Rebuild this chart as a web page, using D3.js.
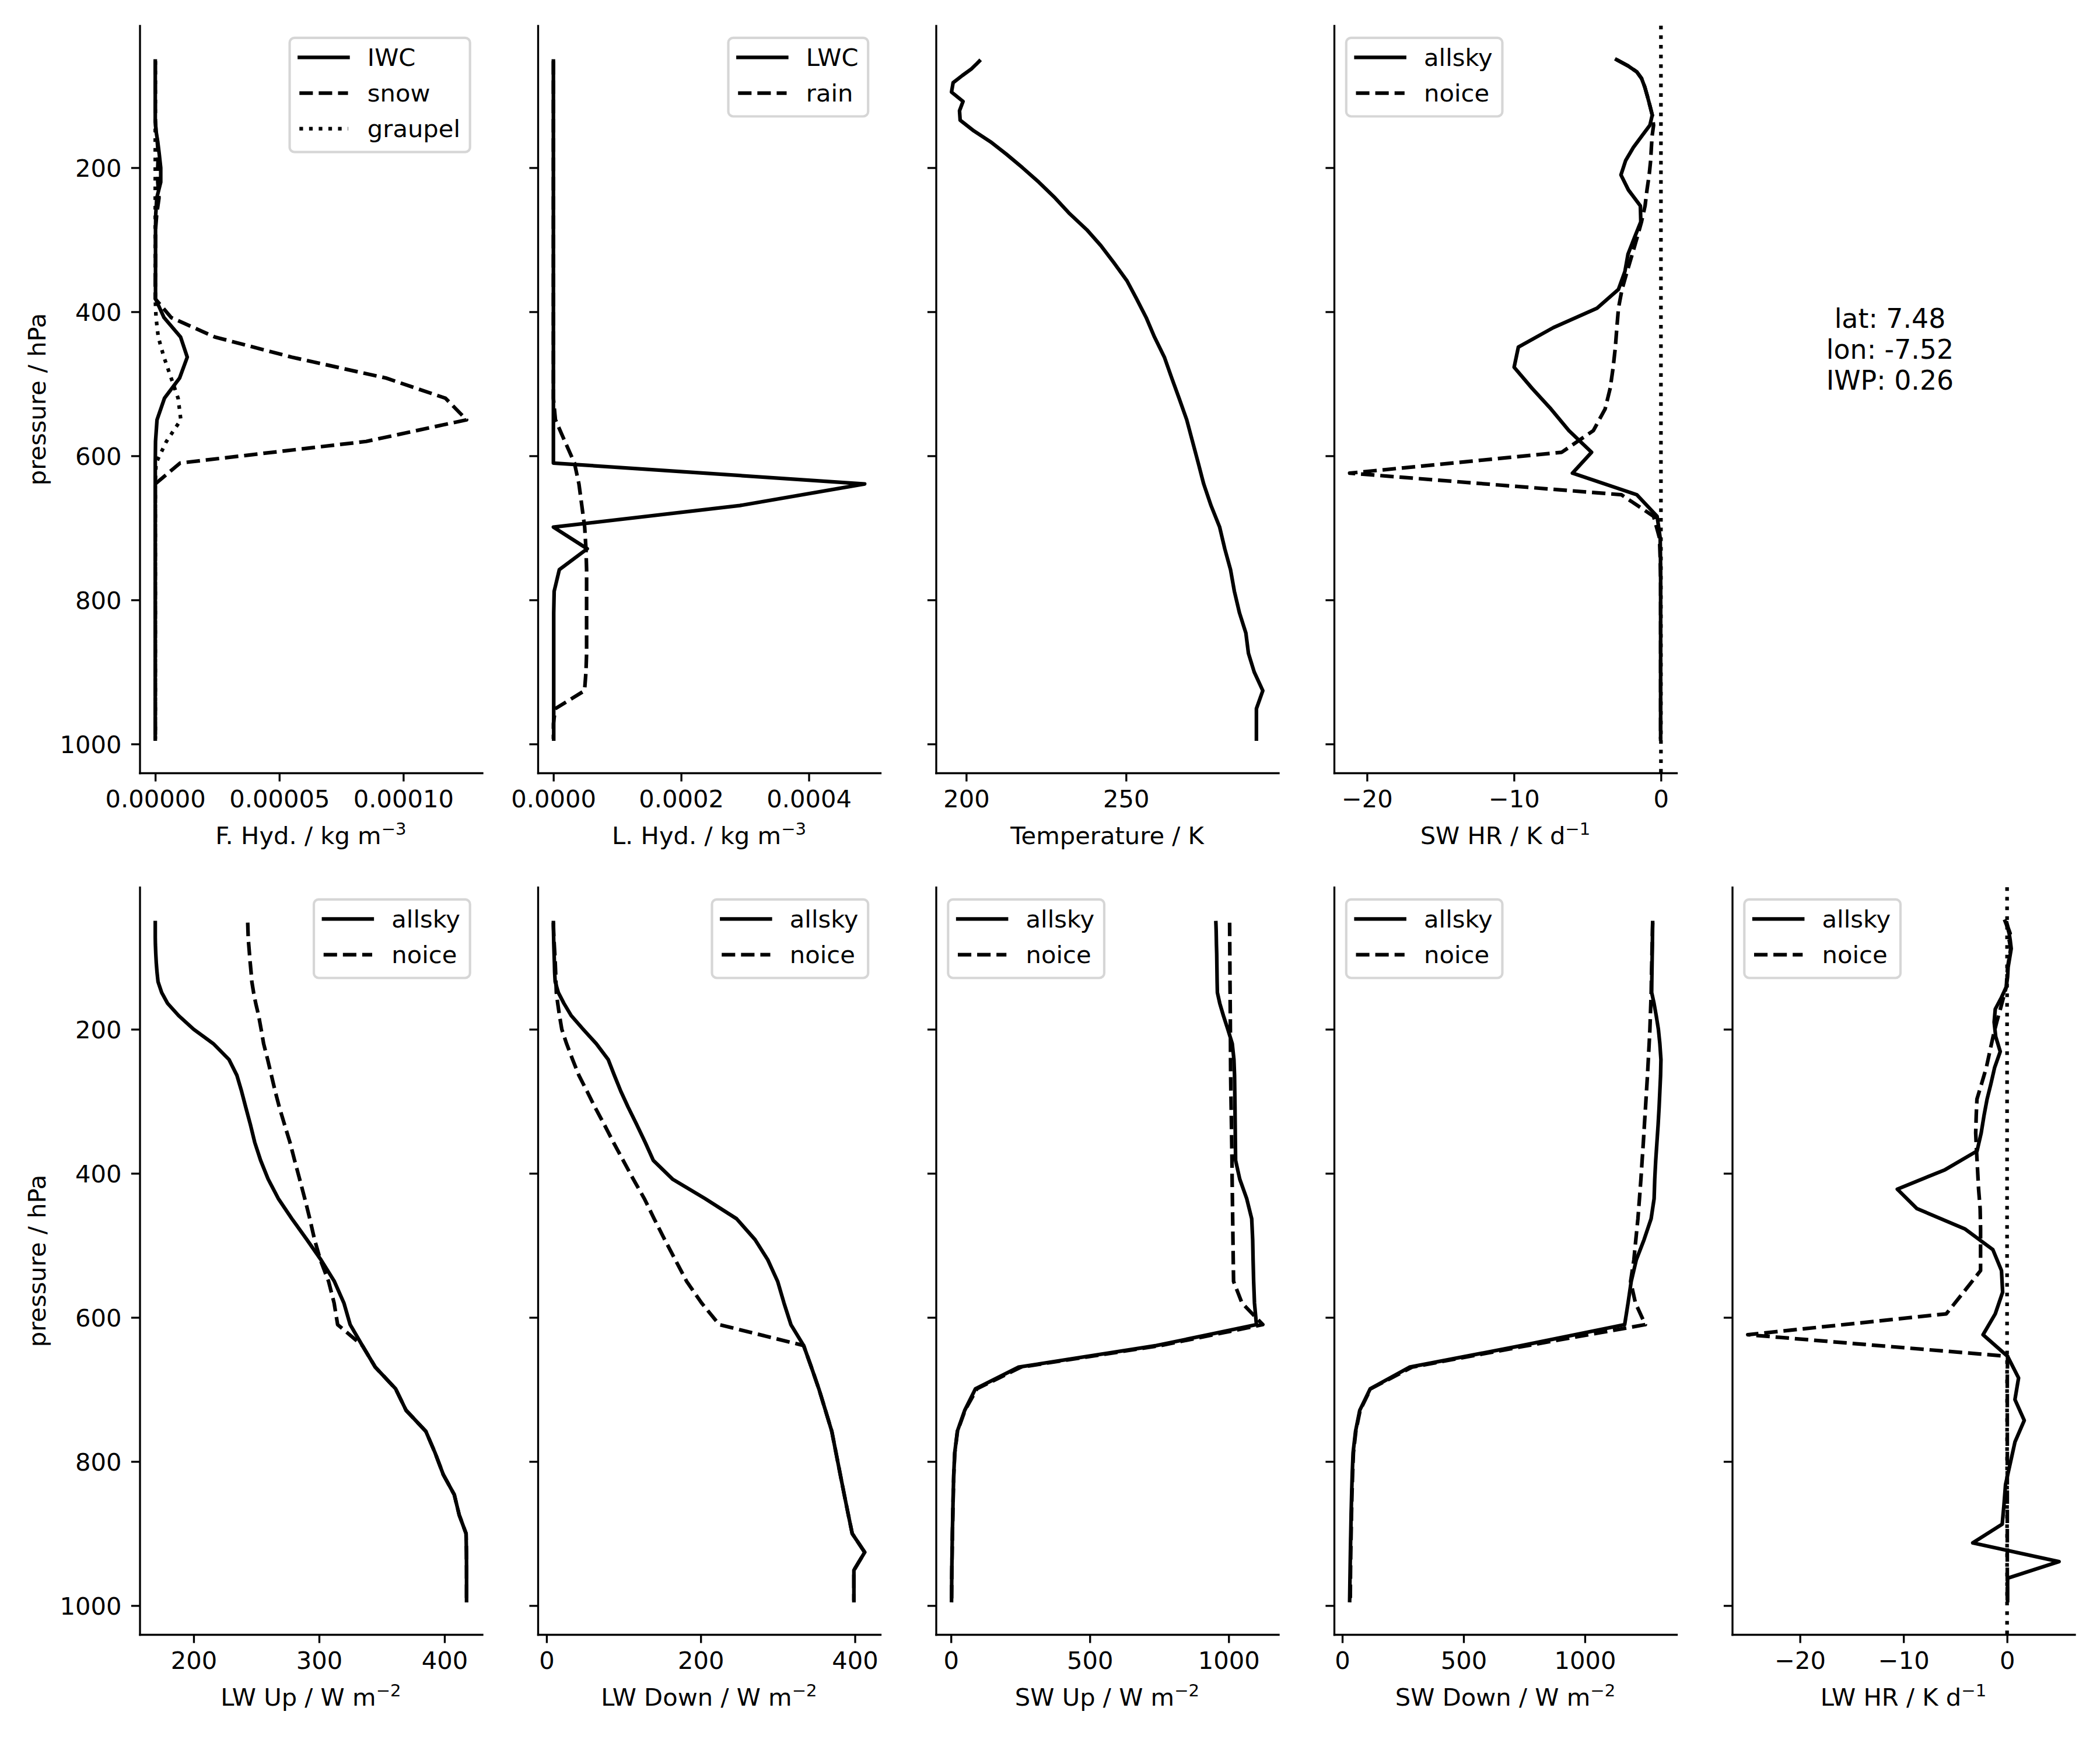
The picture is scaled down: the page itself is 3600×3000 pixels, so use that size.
<!DOCTYPE html>
<html><head><meta charset="utf-8">
<script src="https://cdn.jsdelivr.net/npm/d3@7"></script>
<style>
html,body{margin:0;padding:0;background:#fff;}
svg{display:block;font-family:"DejaVu Sans",sans-serif;}
</style></head><body>
<svg id="fig" width="3600" height="3000"></svg>
<script>
// ---------------- DATA ----------------
// pressure of model levels (hPa) for state variables and fluxes
const pLev = [52, 57, 63, 72, 82, 95, 108, 121, 134, 149, 164, 181, 200, 220, 242, 264, 286, 308, 332, 357, 382, 408, 435, 463, 492, 520, 550, 580, 610, 639, 669, 699, 729, 758, 788, 818, 846, 874, 900, 926, 951, 972, 993];
// pressure of layers (hPa) for heating rates
const pLay = [50, 59, 67, 76, 88, 101, 114, 127, 141, 156, 172, 190, 210, 231, 253, 275, 297, 320, 344, 369, 395, 422, 449, 477, 506, 535, 565, 595, 624, 654, 684, 714, 743, 773, 803, 832, 860, 887, 913, 939, 962, 980, 993];

// frozen hydrometeors (kg m-3)
const iwc = [0,0,0,0,0,0,0,0,0, 3e-7,1e-6,1.6e-6,2.2e-6,2.2e-6,6e-7,2e-7, 1e-7,1e-7,1e-7,1e-7,1e-7, 3.5e-6,1.02e-5,1.29e-5,9.8e-6,3.7e-6,7e-7,1e-7, 0,0,0,0,0,0,0,0,0,0,0,0,0,0,0];
const snow = [0,0,0,0,0,0,0,0,0, 3e-7,8e-7,1.2e-6,1e-6,1e-6,1.5e-6,6e-7, 1e-7,1e-7,1e-7,0,0, 6.4e-6,2.4e-5,5.5e-5,9.3e-5,1.17e-4,1.255e-4,8.5e-5,1.0e-5, 0,0,0,0,0,0,0,0,0,0,0,0,0,0];
const graupel = [0,0,0,0,0,0,0,0,0, 0,0,0,0,0,0,0, 0,0,0,0,0, 3e-7,1.2e-6,3.5e-6,6.4e-6,9.2e-6,1.03e-5,4.5e-6,3e-7, 0,0,0,0,0,0,0,0,0,0,0,0,0,0];
// liquid hydrometeors (kg m-3)
const lwc = [0,0,0,0,0,0,0,0,0,0,0,0,0,0,0,0,0,0,0,0,0,0,0,0,0,0,0,0,0, 4.875e-4,2.92e-4,0,5.3e-5,9.3e-6,1.2e-6, 5e-7,5e-7,5e-7,5e-7,5e-7,5e-7,5e-7,5e-7];
const rain = [0,0,0,0,0,0,0,0,0,0,0,0,0,0,0,0,0,0,0,0,0,0,0,0,0,0, 3.2e-6,1.8e-5,3.3e-5,4.0e-5,4.45e-5,4.9e-5,5.1e-5,5.2e-5,5.2e-5,5.2e-5,5.2e-5,5.2e-5,5.1e-5,4.88e-5,3e-6,0,0];
// temperature (K)
const temperature = [204.1,203.0,201.6,198.8,195.9,195.4,199.0,197.9,198.1,202.4,207.6,212.5,217.6,222.7,227.8,232.4,237.7,242.1,246.2,250.3,253.3,256.3,258.9,262.0,264.3,266.6,269.0,270.8,272.6,274.3,276.6,279.3,280.9,282.7,283.9,285.5,287.5,288.3,290.1,292.8,290.8,290.8,290.8];
// shortwave heating rate (K d-1)
const swHrAll = [-3.02,-2.21,-1.64,-1.32,-1.10,-0.92,-0.75,-0.59,-0.75,-1.30,-1.88,-2.40,-2.72,-2.21,-1.40,-1.37,-1.80,-2.24,-2.45,-2.89,-4.35,-7.32,-9.70,-9.99,-8.78,-7.48,-6.26,-4.72,-6.02,-1.64,-0.26,-0.05,-0.03,-0.02,-0.02,-0.02,-0.02,-0.02,-0.02,-0.02,-0.02,-0.02,-0.02];
const swHrNoice = [-3.02,-2.21,-1.64,-1.32,-1.10,-0.92,-0.75,-0.59,-0.50,-0.60,-0.65,-0.70,-0.80,-0.95,-1.08,-1.32,-1.62,-1.95,-2.30,-2.65,-2.89,-3.00,-3.10,-3.25,-3.45,-3.80,-4.60,-6.75,-21.18,-2.69,-0.50,-0.10,-0.05,-0.02,-0.02,-0.02,-0.02,-0.02,-0.02,-0.02,-0.02,-0.02,-0.02];
// longwave fluxes (W m-2)
const lwUpAll = [169.4,169.4,169.4,169.4,169.5,169.8,170.2,170.8,171.6,174.5,179.2,188.0,200.0,215.7,228.2,234.5,238.2,241.5,245.2,248.7,253.4,259.4,267.5,278.3,290.3,301.5,312.2,319.8,324.8,334.5,344.8,361.0,369.4,385.1,392.5,399.0,407.8,411.7,417.2,417.5,417.6,417.6,417.6];
const lwUpNoice = [243.1,243.2,243.3,243.5,243.9,244.5,245.1,245.8,246.4,247.8,249.5,251.8,253.8,255.8,259.0,262.0,265.0,268.3,272.4,276.8,280.5,284.5,288.6,292.6,296.4,301.0,307.6,312.0,314.8,334.5,344.8,361.0,369.4,385.1,392.5,399.0,407.8,411.7,417.2,417.5,417.6,417.6,417.6];
const lwDownAll = [8.9,8.9,9.0,9.2,9.4,9.8,10.2,10.5,11.2,15.3,22.5,32.0,47.5,64.5,80.0,88.0,96.3,105.8,116.8,128.0,138.5,163.4,205.5,246.5,270.5,287.0,299.8,308.0,317.0,333.5,343.5,353.2,361.8,370.0,375.5,381.0,386.2,391.5,396.5,412.7,398.7,398.7,398.7];
const lwDownNoice = [8.9,9.0,9.2,9.5,10.0,10.7,11.3,11.8,12.2,12.7,14.5,16.8,19.8,26.0,33.8,42.0,52.5,62.7,74.8,86.8,99.4,112.5,126.8,139.6,153.3,167.0,181.8,201.2,224.0,333.5,343.5,353.2,361.8,370.0,375.5,381.0,386.2,391.5,396.5,412.7,398.7,398.7,398.7];
// shortwave fluxes (W m-2)
const swUpAll = [954.0,954.5,955.0,955.5,956.0,957.0,957.5,958.0,958.5,959.4,968.0,981.0,997.0,1013.0,1019.0,1021.2,1022.0,1022.8,1023.5,1024.2,1025.0,1040.0,1065.0,1083.0,1086.5,1088.0,1090.0,1093.0,1100.0,740.0,243.8,88.3,49.5,23.0,13.5,10.0,8.0,6.5,5.0,4.0,3.0,2.5,2.0];
const swUpNoice = [1003.5,1003.6,1003.7,1003.8,1004.0,1004.2,1004.4,1004.6,1004.8,1005.2,1005.5,1005.9,1006.2,1006.5,1006.8,1007.2,1008.0,1009.0,1010.0,1011.0,1012.0,1012.5,1013.5,1014.5,1015.5,1016.5,1017.7,1048.0,1123.0,755.0,252.0,93.6,50.5,23.5,13.8,10.2,8.2,6.7,5.2,4.2,3.2,2.7,2.2];
const swDownAll = [1279.4,1279.2,1279.0,1278.6,1278.2,1277.6,1277.0,1276.4,1275.8,1275.3,1285.0,1294.0,1303.0,1309.0,1313.5,1312.0,1309.0,1306.0,1302.0,1297.0,1292.0,1288.0,1285.4,1273.0,1244.0,1212.0,1191.0,1178.0,1164.0,740.0,277.3,115.4,72.0,54.7,44.5,41.0,38.5,36.5,35.0,33.5,32.3,31.3,30.4];
const swDownNoice = [1279.4,1279.0,1278.5,1278.0,1277.3,1276.5,1275.6,1274.8,1274.0,1273.3,1271.8,1270.0,1268.0,1265.0,1261.5,1258.0,1254.0,1250.0,1245.5,1241.0,1236.0,1231.0,1225.0,1218.6,1210.0,1202.0,1188.5,1208.5,1249.0,765.0,287.5,117.0,73.5,56.0,46.0,42.5,40.0,38.0,36.5,35.0,34.0,33.5,33.0];
// longwave heating rate (K d-1)
const lwHrAll = [-0.19,0.05,0.20,0.30,0.40,0.25,0.10,0.05,-0.07,-0.55,-1.14,-1.25,-1.10,-0.66,-1.20,-1.55,-1.93,-2.23,-2.50,-2.90,-5.99,-10.60,-8.70,-4.09,-1.37,-0.54,-0.43,-1.14,-2.32,0.05,1.11,0.76,1.66,0.76,0.30,-0.15,-0.30,-0.47,-3.31,5.02,0.05,0.05,0.05];
const lwHrNoice = [-0.07,0.10,0.30,0.20,0.35,0.20,0.05,-0.02,-0.07,-0.35,-0.65,-1.00,-1.35,-1.67,-2.00,-2.45,-2.91,-2.98,-3.03,-2.95,-2.85,-2.75,-2.60,-2.56,-2.56,-2.56,-4.20,-5.87,-25.04,0.05,0.02,0.02,0.02,0.02,0.02,0.02,0.02,0.02,0.02,0.02,0.02,0.02,0.02];

// tick values
const yTicks = [200, 400, 600, 800, 1000];
const ticksFHyd = [0, 0.00005, 0.0001];
const ticksLHyd = [0, 0.0002, 0.0004];
const ticksTemp = [200, 250];
const ticksHR = [-20, -10, 0];
const ticksLwUp = [200, 300, 400];
const ticksLwDown = [0, 200, 400];
const ticksSw = [0, 500, 1000];
const infoLines = ["lat: 7.48", "lon: -7.52", "IWP: 0.26"];

// ---------------- STYLE / LAYOUT ----------------
const FS = 41.67;           // 10 pt at 300 dpi
const LW = 6.25;            // 1.5 pt
const SPINE = 3.33;         // 0.8 pt
const TICKLEN = 14.6;
const DASH = "23.1,10";
const DOT = "6.25,10.3";
const AXW = 587, AXH = 1281;
const colLeft = i => 239.5 + i * 682.5;
const rowTop = [44, 1521];

const svg = d3.select("#fig");
svg.append("rect").attr("width", 3600).attr("height", 3000).attr("fill", "#fff");

const allP = pLev.concat(pLay);
const pMin = d3.min(allP), pMax = d3.max(allP), pPad = 0.05 * (pMax - pMin);

const minusFmt = d => (d < 0 ? "\u2212" + Math.abs(d) : String(d));

function panel(cfg) {
  const x0 = colLeft(cfg.col), y0 = rowTop[cfg.row];
  const g = svg.append("g");
  const vals = cfg.series.flatMap(s => s.v);
  if (cfg.zero) vals.push(0);
  const lo = d3.min(vals), hi = d3.max(vals), pad = 0.05 * (hi - lo);
  const x = d3.scaleLinear().domain([lo - pad, hi + pad]).range([x0, x0 + AXW]);
  const y = d3.scaleLinear().domain([pMin - pPad, pMax + pPad]).range([y0, y0 + AXH]);

  if (cfg.zero) {
    g.append("line").attr("x1", x(0)).attr("x2", x(0)).attr("y1", y0).attr("y2", y0 + AXH)
      .attr("stroke", "#000").attr("stroke-width", LW).attr("stroke-dasharray", DOT);
  }
  const line = d3.line().x(d => x(d[1])).y(d => y(d[0]));
  cfg.series.forEach(s => {
    g.append("path").datum(d3.zip(s.p, s.v)).attr("d", line)
      .attr("fill", "none").attr("stroke", "#000").attr("stroke-width", LW)
      .attr("stroke-dasharray", s.dash || null)
      .attr("stroke-linejoin", "round")
      .attr("stroke-linecap", s.dash ? "butt" : "square");
  });

  const xa = d3.axisBottom(x).tickValues(cfg.ticks).tickFormat(cfg.fmt || minusFmt)
    .tickSize(TICKLEN).tickSizeOuter(0).tickPadding(14.8);
  const gx = g.append("g").attr("transform", `translate(0,${y0 + AXH})`).call(xa);
  const ya = d3.axisLeft(y).tickValues(yTicks)
    .tickFormat(cfg.col === 0 ? d3.format("d") : () => "")
    .tickSize(TICKLEN).tickSizeOuter(0).tickPadding(16.4);
  const gy = g.append("g").attr("transform", `translate(${x0},0)`).call(ya);
  [gx, gy].forEach(a => {
    a.attr("font-family", "DejaVu Sans").attr("font-size", FS);
    a.selectAll("path,line").attr("stroke", "#000").attr("stroke-width", SPINE);
    a.select("path.domain").attr("stroke-linecap", "square");
    a.selectAll("text").attr("fill", "#000");
  });
  gy.selectAll("text").attr("dy", "0.36em");

  // x label
  const xl = g.append("text").attr("x", x0 + AXW / 2).attr("y", y0 + AXH + 122)
    .attr("text-anchor", "middle").attr("font-size", FS).attr("fill", "#000");
  xl.append("tspan").text(cfg.xlabel);
  if (cfg.sup) xl.append("tspan").attr("font-size", FS * 0.7).attr("dy", -16).text(cfg.sup);

  if (cfg.col === 0) {
    g.append("text").attr("transform", `translate(78,${y0 + AXH / 2}) rotate(-90)`)
      .attr("text-anchor", "middle").attr("font-size", FS).attr("fill", "#000")
      .text("pressure / hPa");
  }

  if (cfg.legend) {
    const lg = g.append("g");
    const n = cfg.series.length;
    const rect = lg.append("rect");
    const texts = cfg.series.map((s, i) => lg.append("text").attr("font-size", FS).attr("fill", "#000").text(s.label));
    const tw = d3.max(texts, t => t.node().getComputedTextLength());
    const bw = 133.3 + tw + 16.7;
    const bh = 33.5 + (n - 1) * 61.2 + 40;
    const bx = cfg.legend === "right" ? x0 + AXW - 20.8 - bw : x0 + 20.8;
    const by = y0 + 20.8;
    rect.attr("x", bx).attr("y", by).attr("width", bw).attr("height", bh)
      .attr("rx", 8.3).attr("ry", 8.3).attr("fill", "#fff").attr("fill-opacity", 0.8)
      .attr("stroke", "#cccccc").attr("stroke-opacity", 0.8).attr("stroke-width", 4.17);
    cfg.series.forEach((s, i) => {
      const cy = by + 33.5 + i * 61.2;
      lg.append("line").attr("x1", bx + 16.7).attr("x2", bx + 100).attr("y1", cy).attr("y2", cy)
        .attr("stroke", "#000").attr("stroke-width", LW)
        .attr("stroke-dasharray", s.dash || null).attr("stroke-linecap", s.dash ? "butt" : "square");
      texts[i].attr("x", bx + 133.3).attr("y", cy + 14.3);
    });
  }
}

panel({ row: 0, col: 0, ticks: ticksFHyd, fmt: d3.format(".5f"), xlabel: "F. Hyd. / kg m", sup: "\u22123", legend: "right",
  series: [ { p: pLev, v: iwc, label: "IWC" }, { p: pLev, v: snow, dash: DASH, label: "snow" }, { p: pLev, v: graupel, dash: DOT, label: "graupel" } ] });
panel({ row: 0, col: 1, ticks: ticksLHyd, fmt: d3.format(".4f"), xlabel: "L. Hyd. / kg m", sup: "\u22123", legend: "right",
  series: [ { p: pLev, v: lwc, label: "LWC" }, { p: pLev, v: rain, dash: DASH, label: "rain" } ] });
panel({ row: 0, col: 2, ticks: ticksTemp, xlabel: "Temperature / K",
  series: [ { p: pLev, v: temperature, label: "T" } ] });
panel({ row: 0, col: 3, ticks: ticksHR, xlabel: "SW HR / K d", sup: "\u22121", legend: "left", zero: true,
  series: [ { p: pLay, v: swHrAll, label: "allsky" }, { p: pLay, v: swHrNoice, dash: DASH, label: "noice" } ] });

panel({ row: 1, col: 0, ticks: ticksLwUp, xlabel: "LW Up / W m", sup: "\u22122", legend: "right",
  series: [ { p: pLev, v: lwUpAll, label: "allsky" }, { p: pLev, v: lwUpNoice, dash: DASH, label: "noice" } ] });
panel({ row: 1, col: 1, ticks: ticksLwDown, xlabel: "LW Down / W m", sup: "\u22122", legend: "right",
  series: [ { p: pLev, v: lwDownAll, label: "allsky" }, { p: pLev, v: lwDownNoice, dash: DASH, label: "noice" } ] });
panel({ row: 1, col: 2, ticks: ticksSw, xlabel: "SW Up / W m", sup: "\u22122", legend: "left",
  series: [ { p: pLev, v: swUpAll, label: "allsky" }, { p: pLev, v: swUpNoice, dash: DASH, label: "noice" } ] });
panel({ row: 1, col: 3, ticks: ticksSw, xlabel: "SW Down / W m", sup: "\u22122", legend: "left",
  series: [ { p: pLev, v: swDownAll, label: "allsky" }, { p: pLev, v: swDownNoice, dash: DASH, label: "noice" } ] });
panel({ row: 1, col: 4, ticks: ticksHR, xlabel: "LW HR / K d", sup: "\u22121", legend: "left", zero: true,
  series: [ { p: pLay, v: lwHrAll, label: "allsky" }, { p: pLay, v: lwHrNoice, dash: DASH, label: "noice" } ] });

// info text in the empty top-right slot
const info = svg.append("g");
infoLines.forEach((t, i) => {
  info.append("text").attr("x", 3240).attr("y", 562 + i * 53).attr("text-anchor", "middle")
    .attr("font-size", 45.8).attr("fill", "#000").text(t);
});
</script></body></html>
